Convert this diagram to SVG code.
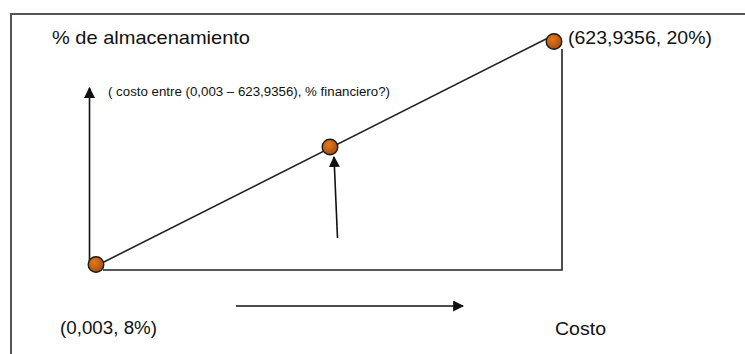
<svg xmlns="http://www.w3.org/2000/svg" width="745" height="354" viewBox="0 0 745 354">
<style>
.t{font-family:"Liberation Sans",Arial,sans-serif;fill:#111}
.ln{stroke:#222;stroke-width:1.6;fill:none}
.ar{stroke:#111;stroke-width:1.6;fill:none}
.pt{fill:url(#g);stroke:#1a1a1a;stroke-width:1.4}
</style>
<defs>
<marker id="ah" viewBox="0 0 10 10" refX="9" refY="5" markerWidth="11" markerHeight="11" markerUnits="userSpaceOnUse" orient="auto">
<path d="M0,0 L10,5 L0,10 z" fill="#111"/>
</marker>
<radialGradient id="g" cx="0.4" cy="0.35" r="0.7">
<stop offset="0" stop-color="#e07a1f"/>
<stop offset="1" stop-color="#a84a08"/>
</radialGradient>
</defs>
<rect width="745" height="354" fill="#fff"/>
<path d="M11,354 V14 H745" fill="none" stroke="#555" stroke-width="2"/>
<g id="connectors">
<path class="ln" d="M90,269 L548,38"/>
<path class="ln" d="M103,270 H562 V49"/>
<path class="ar" d="M89.5,265 V88" marker-end="url(#ah)"/>
<path class="ar" d="M337.5,238 L334,157" marker-end="url(#ah)"/>
<path class="ar" d="M236,306 H463" marker-end="url(#ah)"/>
</g>
<g id="title"><text class="t" x="52" y="44" font-size="18.5" textLength="198" lengthAdjust="spacingAndGlyphs">% de almacenamiento</text></g>
<g id="note"><text class="t" x="108" y="96" font-size="12" textLength="282" lengthAdjust="spacingAndGlyphs">( costo entre (0,003 – 623,9356), % financiero?)</text></g>
<g id="p-start"><circle class="pt" cx="96" cy="264.5" r="7.8"/><text class="t" x="60" y="334" font-size="17.5" textLength="97" lengthAdjust="spacingAndGlyphs">(0,003, 8%)</text></g>
<g id="p-mid"><circle class="pt" cx="330" cy="147" r="7.8"/></g>
<g id="p-end"><circle class="pt" cx="554" cy="41.5" r="7.8"/><text class="t" x="568" y="44" font-size="17.5" textLength="144" lengthAdjust="spacingAndGlyphs">(623,9356, 20%)</text></g>
<g id="axis-x"><text class="t" x="555" y="335" font-size="17.5" textLength="51" lengthAdjust="spacingAndGlyphs">Costo</text></g>
</svg>
